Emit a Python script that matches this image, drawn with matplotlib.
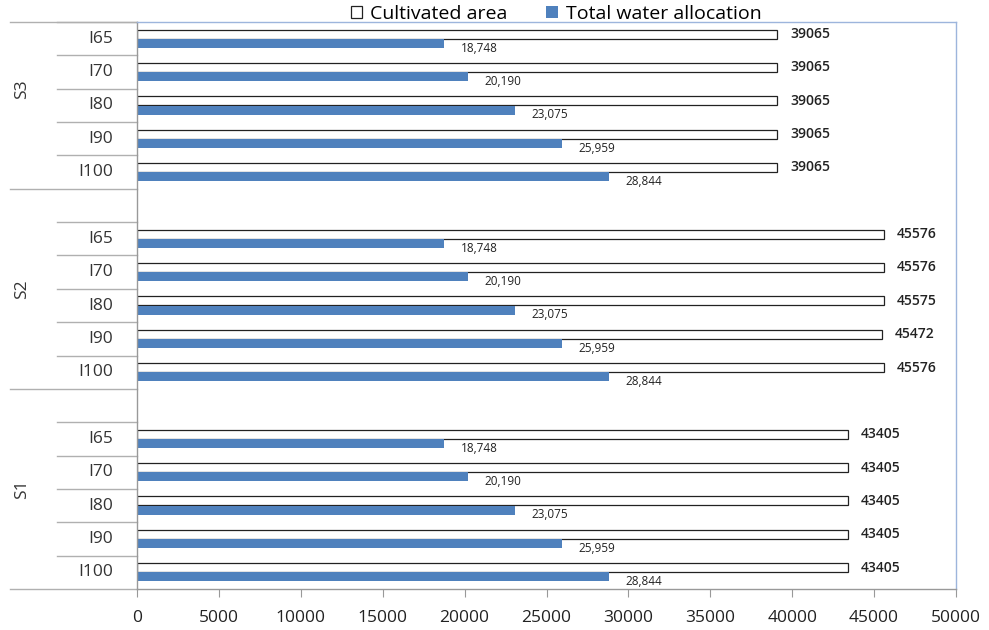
import matplotlib.pyplot as plt
from matplotlib.patches import Patch

plt.rcParams['font.family'] = ['Open Sans', 'DejaVu Sans']

groups = ['S1', 'S2', 'S3']
levels = ['I100', 'I90', 'I80', 'I70', 'I65']
water = [28844, 25959, 23075, 20190, 18748]
cultivated = {
    'S1': [43405, 43405, 43405, 43405, 43405],
    'S2': [45576, 45472, 45575, 45576, 45576],
    'S3': [39065, 39065, 39065, 39065, 39065],
}
xticks = list(range(0, 50001, 5000))

blue = '#4f81bd'
fig = plt.figure(figsize=(9.89, 6.3), dpi=100)
ax = fig.add_axes([137/989, 1-589/630, 819/989, 567/630])

nrows = 17
off = 0.14
h = 0.27
for gi, g in enumerate(groups):
    for li, lev in enumerate(levels):
        y = gi * 6 + li
        ax.barh(y + off, cultivated[g][li], height=h, color='white', edgecolor='#222222', linewidth=0.9)
        ax.barh(y - off, water[li], height=h, color=blue, edgecolor='none')
        ax.text(cultivated[g][li] + 800, y + off, str(cultivated[g][li]), fontsize=10, fontweight='semibold',
                color='#222222', va='center', ha='left')
        ax.text(water[li] + 1000, y - off - 0.14, f'{water[li]:,}', fontsize=8.5,
                color='#222222', va='center', ha='left')
        # category labels
        ax.text(-0.029, (y + 0.5) / nrows, lev, transform=ax.transAxes, ha='right', va='center',
                fontsize=12.5, color='#333333')
        # separator line at top of this row (inner)
        ax.plot([-0.098, 0], [(y + 1) / nrows] * 2, transform=ax.transAxes, clip_on=False,
                color='#b0b0b0', lw=1)
    # group label
    ax.text(-0.14, (gi * 6 + 3) / nrows, g, transform=ax.transAxes, rotation=90, ha='center',
            va='center', fontsize=12.5, color='#333333')
    # group boundary lines
    ax.plot([-0.155, 0], [gi * 6 / nrows] * 2, transform=ax.transAxes, clip_on=False,
            color='#b0b0b0', lw=1)
ax.plot([-0.155, 0], [1, 1], transform=ax.transAxes, clip_on=False, color='#b0b0b0', lw=1)

ax.set_xlim(0, 50000)
ax.set_ylim(-0.5, nrows - 0.5)
ax.set_xticks(xticks)
ax.set_xticklabels([str(t) for t in xticks], fontsize=12.5, color='#222222')
ax.tick_params(axis='x', length=6, color='#999999', pad=9)
ax.set_yticks([])

ax.spines['left'].set_color('#999999')
ax.spines['bottom'].set_color('#999999')
ax.spines['top'].set_color('#9db5dc')
ax.spines['right'].set_color('#9db5dc')
for s in ax.spines.values():
    s.set_linewidth(1)

handles = [Patch(facecolor='white', edgecolor='#222222', linewidth=0.9),
           Patch(facecolor=blue, edgecolor='none')]
fig.legend(handles, ['Cultivated area', 'Total water allocation'], loc='center',
           bbox_to_anchor=(556/989, 1-14/630), ncol=2, frameon=False, fontsize=14,
           handlelength=0.6, handleheight=0.6, handletextpad=0.4, columnspacing=2.0,
           borderpad=0)

fig.savefig('out.png', dpi=100)
